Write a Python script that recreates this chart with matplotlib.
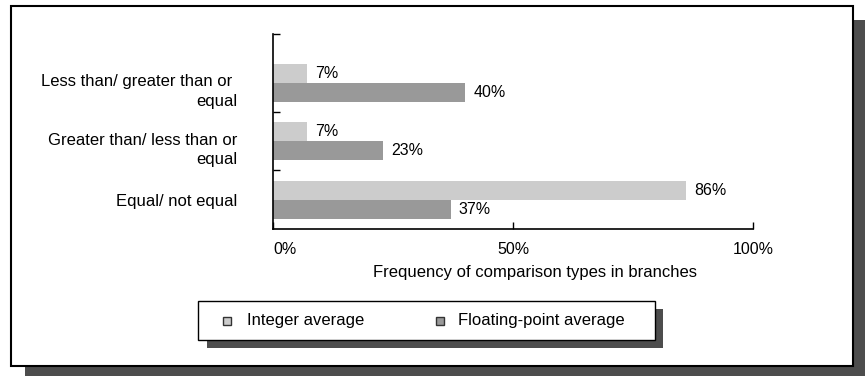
import matplotlib.pyplot as plt
from matplotlib.patches import Rectangle
import numpy as np

plt.rcParams['font.family'] = ['Liberation Sans', 'DejaVu Sans']
plt.rcParams['font.size'] = 12

# comparison types, bottom to top
categories = ['Equal/ not equal',
              'Greater than/ less than or\nequal',
              'Less than/ greater than or \nequal']
integer_avg = [86, 7, 7]
float_avg = [37, 23, 40]
series_names = ['Integer average', 'Floating-point average']
x_ticks = [0, 50, 100]
x_labels = ['0%', '50%', '100%']

light = '#cccccc'
dark = '#999999'
shadow = '#4d4d4d'

W, H = 865, 376
fig = plt.figure(figsize=(W / 100, H / 100), dpi=100)
fig.patch.set_facecolor('white')


def px_rect(x0, y0, x1, y1, **kw):
    # rectangle given in pixel coords measured from the top-left corner
    r = Rectangle((x0 / W, 1 - y1 / H), (x1 - x0) / W, (y1 - y0) / H,
                  transform=fig.transFigure, **kw)
    fig.add_artist(r)
    return r


# outer frame with drop shadow
px_rect(25, 20, 880, 390, facecolor=shadow, edgecolor='none', zorder=0)
px_rect(11, 6, 853, 366, facecolor='white', edgecolor='black', linewidth=1.5, zorder=0.5)

ax = fig.add_axes([273 / W, 1 - 229 / H, (753 - 273) / W, (229 - 34) / H])
ax.set_zorder(2)
ax.patch.set_alpha(0)

y = np.arange(len(categories))
h = 0.325
b1 = ax.barh(y + h / 2, integer_avg, height=h, color=light, zorder=2)
b2 = ax.barh(y - h / 2, float_avg, height=h, color=dark, zorder=2)
ax.bar_label(b1, labels=[f'{v}%' for v in integer_avg], padding=6, fontsize=11.5)
ax.bar_label(b2, labels=[f'{v}%' for v in float_avg], padding=6, fontsize=11.5)

top = 2.83
ax.set_ylim(-0.5, top)
ax.set_xlim(0, 100)

# two-line labels sit a little below their bar pair
label_pos = [0, 0.91, 1.91]
ax.set_yticks(label_pos)
ax.set_yticklabels(categories, linespacing=1.35, fontsize=12)
ax.tick_params(axis='y', length=0, pad=26)
for lab in ax.get_yticklabels():
    lab.set_horizontalalignment('right')
ax.set_yticks([0.5, 1.5, top], minor=True)
ax.tick_params(axis='y', which='minor', direction='in', length=5, width=1)

ax.set_xticks(x_ticks)
ax.set_xticklabels(x_labels, fontsize=11.5)
ax.tick_params(axis='x', direction='in', length=5, width=1, pad=9)
ax.get_xticklabels()[0].set_horizontalalignment('left')

for s in ['top', 'right']:
    ax.spines[s].set_visible(False)
ax.spines['left'].set_linewidth(1.2)
ax.spines['bottom'].set_linewidth(1.2)
# right end tick of the x axis
ax.set_xticks([100], minor=True)

fig.text(535 / W, 1 - 273 / H, 'Frequency of comparison types in branches',
         ha='center', va='center', fontsize=12)

# legend box with drop shadow
px_rect(207, 309, 663, 348, facecolor=shadow, edgecolor='none', zorder=1)
px_rect(198, 301, 655, 340, facecolor='white', edgecolor='black', linewidth=1, zorder=1.5)
for mx, tx, col, name in [(223, 247, light, series_names[0]),
                          (436, 458, dark, series_names[1])]:
    px_rect(mx, 317, mx + 8, 325, facecolor=col, edgecolor='#333333', linewidth=1, zorder=3)
    fig.text(tx / W, 1 - 321 / H, name, ha='left', va='center', fontsize=12, zorder=3)

fig.savefig('out.png', dpi=100)
